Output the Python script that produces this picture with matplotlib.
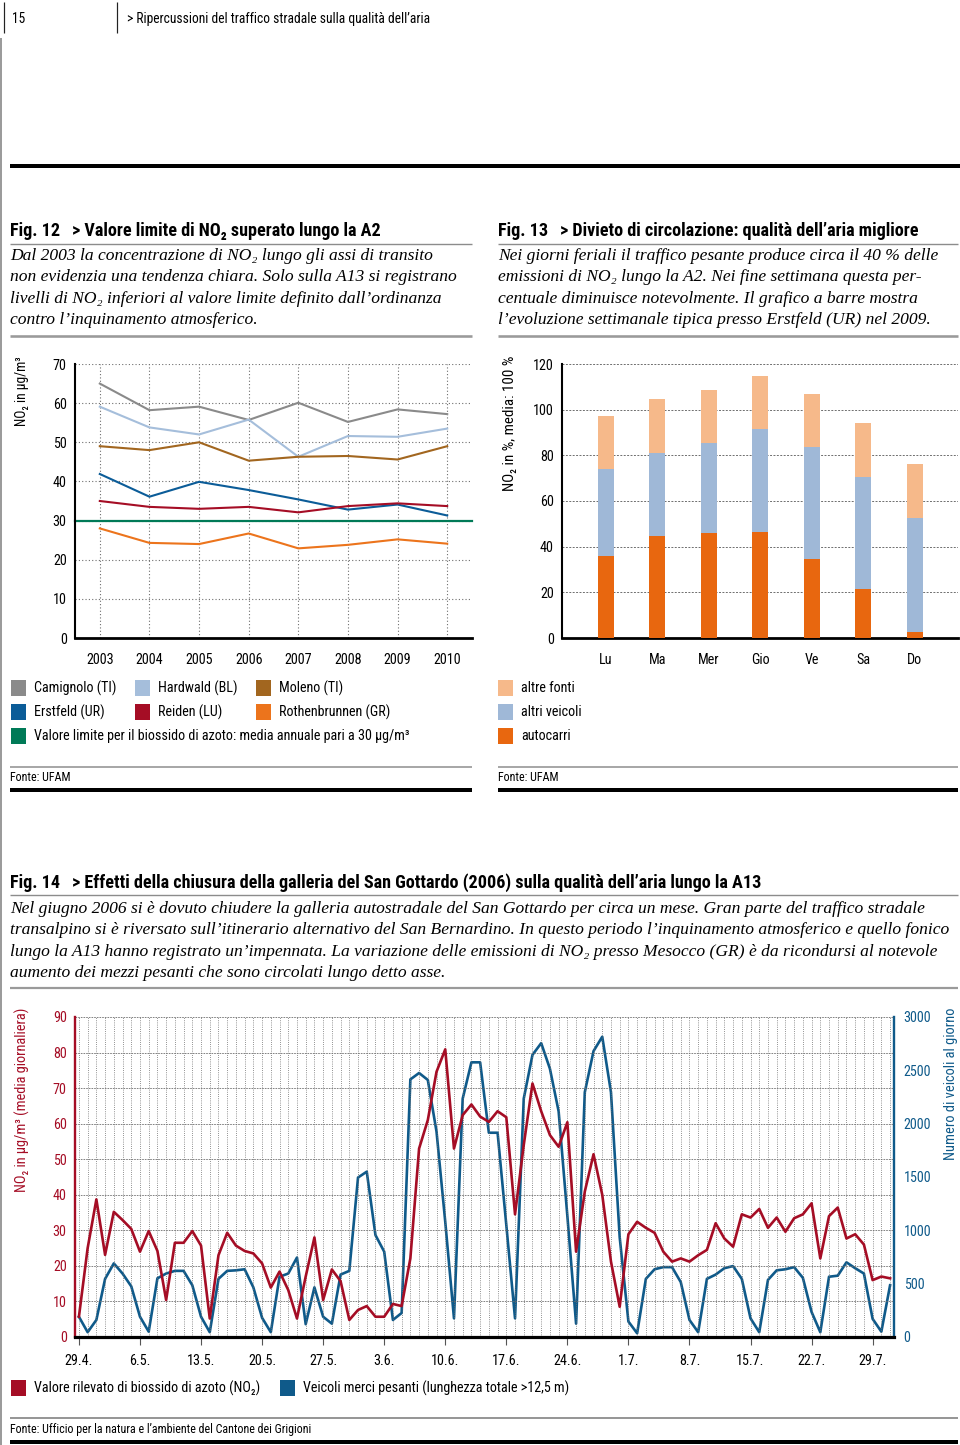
import numpy as np
import matplotlib.pyplot as plt
from matplotlib import font_manager as fm
from matplotlib.lines import Line2D
from matplotlib.patches import Rectangle

W, H = 960, 1445

# %%
# pick a narrow sans family if one is installed, else a plain one
_fams = {}
for _f in fm.fontManager.ttflist:
    _fams.setdefault(_f.name, set()).add(str(_f.stretch))
SANS_MAIN, STRETCH = 'Liberation Sans', 'normal'
for _name in ['Liberation Sans Narrow', 'Roboto Condensed', 'Noto Sans Condensed',
              'Open Sans Condensed', 'DejaVu Sans Condensed', 'Arial Narrow',
              'Noto Sans SemiCondensed', 'Open Sans SemiCondensed']:
    if _name in _fams:
        SANS_MAIN = _name
        break
else:
    for _name in ['DejaVu Sans', 'Noto Sans', 'Roboto', 'Open Sans']:
        if _name in _fams and ({'condensed', 'semi-condensed'} & _fams[_name]):
            SANS_MAIN, STRETCH = _name, 'condensed'
            break
SANS = [SANS_MAIN, 'DejaVu Sans']
SERIF = ['Liberation Serif', 'DejaVu Serif']
plt.rcParams['font.family'] = SANS
plt.rcParams['font.stretch'] = STRETCH

# %%
# Fig. 12 - annual NO2 means
years = [2003, 2004, 2005, 2006, 2007, 2008, 2009, 2010]
camignolo = [65.0, 58.2, 59.1, 55.7, 60.1, 55.2, 58.4, 57.2]
hardwald = [59.1, 53.8, 52.0, 55.8, 46.3, 51.6, 51.4, 53.5]
moleno = [49.0, 48.0, 50.0, 45.3, 46.3, 46.5, 45.6, 49.0]
erstfeld = [41.9, 36.1, 39.9, 37.8, 35.4, 32.8, 34.1, 31.3]
reiden = [35.0, 33.5, 33.0, 33.5, 32.1, 33.7, 34.4, 33.7]
rothenbrunnen = [28.0, 24.3, 24.0, 26.7, 22.9, 23.8, 25.2, 24.1]
limit_no2 = 30
station_names = ['Camignolo (TI)', 'Hardwald (BL)', 'Moleno (TI)',
                 'Erstfeld (UR)', 'Reiden (LU)', 'Rothenbrunnen (GR)']
limit_label = 'Valore limite per il biossido di azoto: media annuale pari a 30 µg/m³'

# Fig. 13 - weekly NO2 profile in Erstfeld
weekdays = ['Lu', 'Ma', 'Mer', 'Gio', 'Ve', 'Sa', 'Do']
autocarri = [35.8, 44.6, 46.0, 46.3, 34.5, 21.3, 2.5]
altri_veicoli = [38.0, 36.5, 39.5, 45.1, 49.0, 49.3, 50.1]
altre_fonti = [23.4, 23.4, 23.1, 23.4, 23.4, 23.4, 23.6]
source_names = ['altre fonti', 'altri veicoli', 'autocarri']

# Fig. 14 - daily values Mesocco, 29.4. - 31.7.2006
date_ticks = ['29.4.', '6.5.', '13.5.', '20.5.', '27.5.', '3.6.', '10.6.',
              '17.6.', '24.6.', '1.7.', '8.7.', '15.7.', '22.7.', '29.7.']
no2_daily = [5.7, 25, 38.7, 23.1, 35.2, 32.9, 30.4, 24, 29.8, 24.2,
             10.4, 26.5, 26.5, 29.8, 25.7, 5.2, 23, 29.3, 25.7, 24.2,
             23.5, 20.7, 13.9, 18.4, 13.2, 5.2, 17, 28, 10.4, 19,
             15.7, 4.8, 7.6, 8.7, 5.7, 5.7, 9.3, 8.7, 22.1, 53,
             61, 74.6, 80.9, 53, 62.4, 65.4, 62, 60.5, 63.5, 61.8,
             34.5, 54, 71.3, 63.5, 56.8, 53.5, 60.4, 24, 40.9, 51.4,
             40, 21.2, 8.5, 28.9, 32.4, 30.7, 29.3, 24, 21.2, 22.1,
             21.2, 23, 24.5, 32, 27.7, 25.4, 34.5, 33.6, 36, 30.7,
             33.6, 29.6, 33.4, 34.5, 37.6, 22.1, 34, 36.4, 27.7, 28.9,
             26, 16, 17, 16.5]
trucks_daily = [190, 45, 160, 545, 690, 595, 475, 190, 50, 550,
                595, 620, 620, 485, 190, 45, 545, 620, 625, 635,
                465, 180, 45, 565, 595, 745, 120, 465, 190, 125,
                585, 620, 1495, 1550, 955, 800, 160, 225, 2415, 2475,
                2410, 1925, 1080, 175, 2235, 2575, 2575, 1915, 1915, 1050,
                175, 2235, 2645, 2755, 2515, 2115, 1135, 125, 2295, 2680,
                2815, 2295, 935, 145, 35, 545, 635, 655, 655, 515,
                160, 45, 545, 585, 645, 665, 545, 175, 45, 535,
                625, 635, 655, 555, 235, 45, 565, 575, 700, 645,
                595, 170, 50, 485]
series14_names = ['Valore rilevato di biossido di azoto (NO₂)',
                  'Veicoli merci pesanti (lunghezza totale >12,5 m)']

# colours
GREY = '#8a8a8a'
LBLUE = '#a5bedb'
BROWN = '#a2661f'
BLUE = '#0b5c98'
RED = '#a50d25'
ORANGE = '#ec741c'
GREEN = '#007a57'
C_FONTI = '#f6b98a'
C_VEIC = '#9fb8d7'
C_AUTO = '#e8670f'
BLUE14 = '#0f5a8a'
RULE = '#8c8c8c'
GRIDC = '#6e6e6e'

fig = plt.figure(figsize=(W / 100, H / 100), dpi=100)
renderer = fig.canvas.get_renderer()


def calib(s, target, **kw):
    # font size (pt) at which s is target px wide
    probe = fig.text(0, 0, s, fontsize=10, **kw)
    w = probe.get_window_extent(renderer).width
    probe.remove()
    return 10 * target / w


FS = min(calib(limit_label, 376), 11)            # legends / ticks
FS_T = calib('> Divieto di circolazione: qualità dell’aria migliore', 361,
             weight='bold')
FS_H = calib('> Ripercussioni del traffico stradale sulla qualità dell’aria', 301)
FS_S = calib('Fonte: Ufficio per la natura e l’ambiente del Cantone dei Grigioni', 299)


def fx(x):
    return x / W


def fy(y):
    return 1 - y / H


def hline(y, x0, x1, lw, color):
    fig.add_artist(Line2D([fx(x0), fx(x1)], [fy(y), fy(y)], lw=lw * 0.72,
                          color=color, transform=fig.transFigure,
                          solid_capstyle='butt'))


def vline(x, y0, y1, lw, color):
    fig.add_artist(Line2D([fx(x), fx(x)], [fy(y0), fy(y1)], lw=lw * 0.72,
                          color=color, transform=fig.transFigure,
                          solid_capstyle='butt'))


def txt(x, y, s, size=None, **kw):
    kw.setdefault('va', 'center')
    kw.setdefault('ha', 'left')
    return fig.text(fx(x), fy(y), s, fontsize=size or FS, **kw)


def ylabel(x, y, s, length, **kw):
    size = calib(s, length)
    return txt(x, y, s, size=size, rotation=90, ha='center', va='top', **kw)


def square(x, y, color, w=15, h=16):
    fig.add_artist(Rectangle((fx(x), fy(y + h / 2)), w / W, h / H,
                             transform=fig.transFigure, color=color, lw=0))


def axes_px(left, top, right, bottom):
    return fig.add_axes([fx(left), fy(bottom), (right - left) / W,
                         (bottom - top) / H])


def caption(x, y0, lines, size=12.6):
    for i, line in enumerate(lines):
        txt(x, y0 + i * 21.3, line, size=size, family=SERIF, style='italic')


# %%
# page frame / header
vline(1.2, 38, 1445, 1.5, '#7a7a7a')
vline(3.5, 2, 33, 1.2, '#222222')
vline(117, 2, 33, 1.2, '#222222')
txt(12, 19, '15', size=FS_H)
txt(127, 19, '> Ripercussioni del traffico stradale sulla qualità dell’aria', size=FS_H)
hline(166, 10, 960, 4, 'black')

# titles and captions of fig 12 / 13
txt(10, 231, 'Fig. 12', size=FS_T, weight='bold')
txt(72, 231, '> Valore limite di NO₂ superato lungo la A2', size=FS_T, weight='bold')
hline(243.5, 10, 472, 1.4, RULE)
caption(10, 256, ['Dal 2003 la concentrazione di NO₂ lungo gli assi di transito',
                  'non evidenzia una tendenza chiara. Solo sulla A13 si registrano',
                  'livelli di NO₂ inferiori al valore limite definito dall’ordinanza',
                  'contro l’inquinamento atmosferico.'])
hline(336, 10, 472, 2.6, '#9a9a9a')

txt(498, 231, 'Fig. 13', size=FS_T, weight='bold')
txt(560, 231, '> Divieto di circolazione: qualità dell’aria migliore', size=FS_T,
    weight='bold')
hline(243.5, 498, 958, 1.4, RULE)
caption(498, 256, ['Nei giorni feriali il traffico pesante produce circa il 40 % delle',
                   'emissioni di NO₂ lungo la A2. Nei fine settimana questa per-',
                   'centuale diminuisce notevolmente. Il grafico a barre mostra',
                   'l’evoluzione settimanale tipica presso Erstfeld (UR) nel 2009.'])
hline(336, 498, 958, 2.6, '#9a9a9a')

# %%
# Fig. 12 line chart
ax1 = axes_px(75, 364, 472, 638)
ax1.set_xlim(2002.5, 2010.5)
ax1.set_ylim(0, 70)
ax1.set_xticks(years)
ax1.set_yticks(range(0, 71, 10))
ax1.grid(True, ls=(0, (1, 2)), color=GRIDC, lw=0.8)
ax1.set_axisbelow(True)
series12 = [camignolo, hardwald, moleno, erstfeld, reiden, rothenbrunnen]
colors12 = [GREY, LBLUE, BROWN, BLUE, RED, ORANGE]
ax1.axhline(limit_no2, color=GREEN, lw=1.6, clip_on=False)
for vals, col in zip(series12, colors12):
    ax1.plot(years, vals, color=col, lw=1.5)
for s in ['top', 'right']:
    ax1.spines[s].set_visible(False)
ax1.spines['left'].set_linewidth(1.5)
ax1.spines['bottom'].set_linewidth(2.0)
ax1.tick_params(length=0, labelsize=FS)
ax1.tick_params(axis='x', pad=11)
ax1.tick_params(axis='y', pad=6)
ylabel(22, 356, 'NO₂ in µg/m³', 70)

# Fig. 13 stacked bars
ax2 = axes_px(562, 364, 958, 638)
xb = np.arange(len(weekdays))
bottom2 = np.add(autocarri, altri_veicoli)
ax2.bar(xb, autocarri, width=0.305, color=C_AUTO, zorder=3)
ax2.bar(xb, altri_veicoli, width=0.305, bottom=autocarri, color=C_VEIC, zorder=3)
ax2.bar(xb, altre_fonti, width=0.305, bottom=bottom2, color=C_FONTI, zorder=3)
ax2.set_xlim(-0.85, 6.84)
ax2.set_ylim(0, 120)
ax2.set_xticks(xb)
ax2.set_xticklabels(weekdays)
ax2.set_yticks(range(0, 121, 20))
ax2.grid(axis='y', ls=(0, (2, 1.5)), color=GRIDC, lw=0.7)
for s in ['top', 'right']:
    ax2.spines[s].set_visible(False)
ax2.spines['left'].set_linewidth(1.5)
ax2.spines['bottom'].set_linewidth(2.0)
ax2.tick_params(length=0, labelsize=FS)
ax2.tick_params(axis='x', pad=11)
ax2.tick_params(axis='y', pad=6)
ylabel(510, 356, 'NO₂ in %, media: 100 %', 134)

# legends fig 12 / 13
leg_x = [11, 135, 256]
for i, (name, col) in enumerate(zip(station_names, colors12)):
    x = leg_x[i % 3]
    y = 688 + 24 * (i // 3)
    square(x, y, col)
    txt(x + 23, y, name)
square(11, 736, GREEN)
txt(34, 736, limit_label)
for i, (name, col) in enumerate(zip(source_names, [C_FONTI, C_VEIC, C_AUTO])):
    square(498, 688 + 24 * i, col)
    txt(521, 688 + 24 * i, name)

hline(767, 10, 472, 1.5, RULE)
hline(767, 498, 958, 1.5, RULE)
txt(10, 777.5, 'Fonte: UFAM', size=FS_S)
txt(498, 777.5, 'Fonte: UFAM', size=FS_S)
hline(789.5, 10, 472, 4, 'black')
hline(789.5, 498, 958, 4, 'black')

# %%
# Fig. 14 title and caption
txt(10, 883, 'Fig. 14', size=FS_T, weight='bold')
txt(72, 883, '> Effetti della chiusura della galleria del San Gottardo (2006) '
    'sulla qualità dell’aria lungo la A13', size=FS_T, weight='bold')
hline(895.5, 10, 958, 1.4, RULE)
caption(10, 909, ['Nel giugno 2006 si è dovuto chiudere la galleria autostradale del San Gottardo '
                  'per circa un mese. Gran parte del traffico stradale',
                  'transalpino si è riversato sull’itinerario alternativo del San Bernardino. '
                  'In questo periodo l’inquinamento atmosferico e quello fonico',
                  'lungo la A13 hanno registrato un’impennata. La variazione delle emissioni '
                  'di NO₂ presso Mesocco (GR) è da ricondursi al notevole',
                  'aumento dei mezzi pesanti che sono circolati lungo detto asse.'])
hline(988, 10, 958, 2.2, '#9a9a9a')

# Fig. 14 dual axis chart
ax3 = axes_px(75, 1017, 894, 1337)
day_idx = np.arange(len(no2_daily))
ax3.set_xlim(-0.45, 93.45)
ax3.set_ylim(0, 90)
ax3.set_xticks(day_idx, minor=True)
ax3.set_xticks(day_idx[::7])
ax3.set_xticklabels(date_ticks)
ax3.set_yticks(range(0, 91, 10))
ax3.grid(axis='x', which='both', ls=(0, (1, 1.6)), color=GRIDC, lw=0.6)
ax3.grid(axis='y', which='major', ls=(0, (2, 1.2)), color=GRIDC, lw=0.6)
ax3.tick_params(axis='x', which='minor', length=0)
ax3.tick_params(axis='x', which='major', length=6, width=0.8, color='#555555',
                pad=6, labelsize=FS)
ax3.tick_params(axis='y', length=0, pad=6, labelsize=FS, labelcolor=RED)
for s in ['top', 'right']:
    ax3.spines[s].set_visible(False)
ax3.spines['left'].set_color(RED)
ax3.spines['left'].set_linewidth(1.7)
ax3.spines['bottom'].set_linewidth(2.3)

ax4 = ax3.twinx()
ax4.set_ylim(0, 3000)
ax4.set_yticks(range(0, 3001, 500))
ax4.plot(day_idx, trucks_daily, color=BLUE14, lw=1.9)
for s in ['top', 'left', 'bottom']:
    ax4.spines[s].set_visible(False)
ax4.spines['right'].set_color(BLUE14)
ax4.spines['right'].set_linewidth(1.7)
ax4.tick_params(axis='y', length=0, pad=7, labelsize=FS, labelcolor=BLUE14)

ax3.plot(day_idx, no2_daily, color=RED, lw=1.9)
ax3.set_zorder(ax4.get_zorder() + 1)
ax3.patch.set_visible(False)

ylabel(22, 1008, 'NO₂ in µg/m³ (media giornaliera)', 184, color=RED)
ylabel(951, 1008, 'Numero di veicoli al giorno', 152, color=BLUE14)

# legend fig 14
square(11, 1388, RED)
txt(34, 1388, series14_names[0])
square(280, 1388, BLUE14)
txt(303, 1388, series14_names[1])

hline(1418, 10, 958, 1.8, RULE)
txt(10, 1430, 'Fonte: Ufficio per la natura e l’ambiente del Cantone dei Grigioni', size=FS_S)
hline(1441.5, 10, 958, 4, 'black')

fig.savefig('out.png', dpi=100, facecolor='white')
